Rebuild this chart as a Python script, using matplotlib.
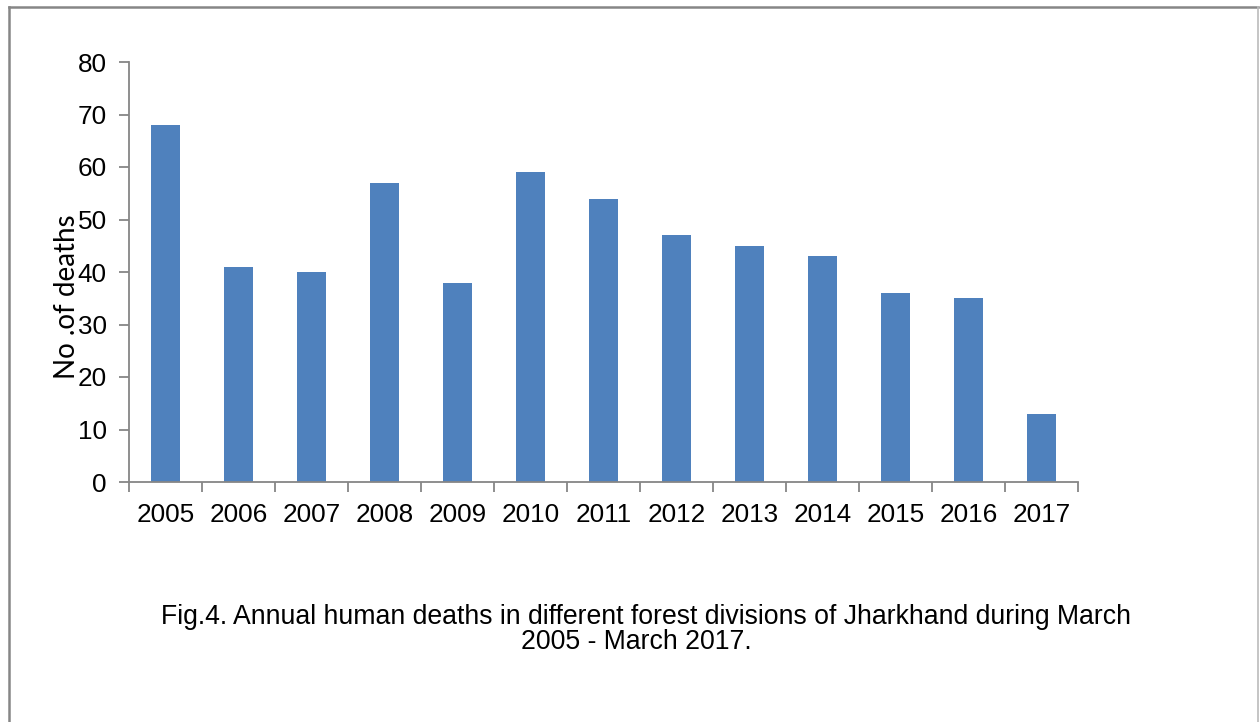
import matplotlib
matplotlib.use("Agg")
import matplotlib.pyplot as plt
from matplotlib.lines import Line2D

years = ["2005", "2006", "2007", "2008", "2009", "2010", "2011",
         "2012", "2013", "2014", "2015", "2016", "2017"]
deaths = [68, 41, 40, 57, 38, 59, 54, 47, 45, 43, 36, 35, 13]
y_ticks = [0, 10, 20, 30, 40, 50, 60, 70, 80]

plt.rcParams["font.family"] = ["Liberation Sans", "DejaVu Sans"]

W, H = 1260, 722
fig = plt.figure(figsize=(W / 100, H / 100), dpi=100)
fig.patch.set_facecolor("white")

ax = fig.add_axes([129 / W, 1 - 482 / H, (1078 - 129) / W, (482 - 62) / H])
x = list(range(len(years)))
ax.bar(x, deaths, width=0.41, color="#4F81BD", zorder=2)

ax.set_xlim(-0.5, len(years) - 0.5)
ax.set_ylim(0, 80)
ax.set_yticks(y_ticks)
ax.set_yticklabels([str(v) for v in y_ticks], fontsize=18.8)
ax.set_xticks(x)
ax.set_xticklabels(years, fontsize=18.8)
ax.tick_params(axis="x", length=0, pad=15)
ax.set_xticks([i - 0.5 for i in range(len(years) + 1)], minor=True)
ax.tick_params(axis="x", which="minor", length=7, width=1.3, color="#868686", direction="out")
ax.tick_params(axis="y", length=7, width=1.3, color="#868686", direction="out", pad=9)

for side in ("top", "right"):
    ax.spines[side].set_visible(False)
for side in ("left", "bottom"):
    ax.spines[side].set_color("#868686")
    ax.spines[side].set_linewidth(1.3)

fig.text(67 / W, 1 - 297 / H, "No .of deaths", rotation=90, fontsize=20,
         ha="center", va="center", family=["Lato", "DejaVu Sans"])

fig.text(646 / W, 1 - 617 / H,
         "Fig.4. Annual human deaths in different forest divisions of Jharkhand during March",
         fontsize=19.2, ha="center", va="center")
fig.text(636 / W, 1 - 642 / H, "2005 - March 2017.",
         fontsize=19.2, ha="center", va="center")

# Frame around the figure (open at the bottom)
fx0, fx1, fy0 = 8.5 / W, 1257.5 / W, 1 - 6.5 / H
fig.add_artist(Line2D([fx0, fx1], [fy0, fy0], color="#868686", lw=1.8, transform=fig.transFigure))
fig.add_artist(Line2D([fx0, fx0], [fy0, 0], color="#868686", lw=1.8, transform=fig.transFigure))
fig.add_artist(Line2D([fx1, fx1], [fy0, 0], color="#BBBBBB", lw=1.2, transform=fig.transFigure))

fig.savefig("out.png", dpi=100, facecolor="white")
